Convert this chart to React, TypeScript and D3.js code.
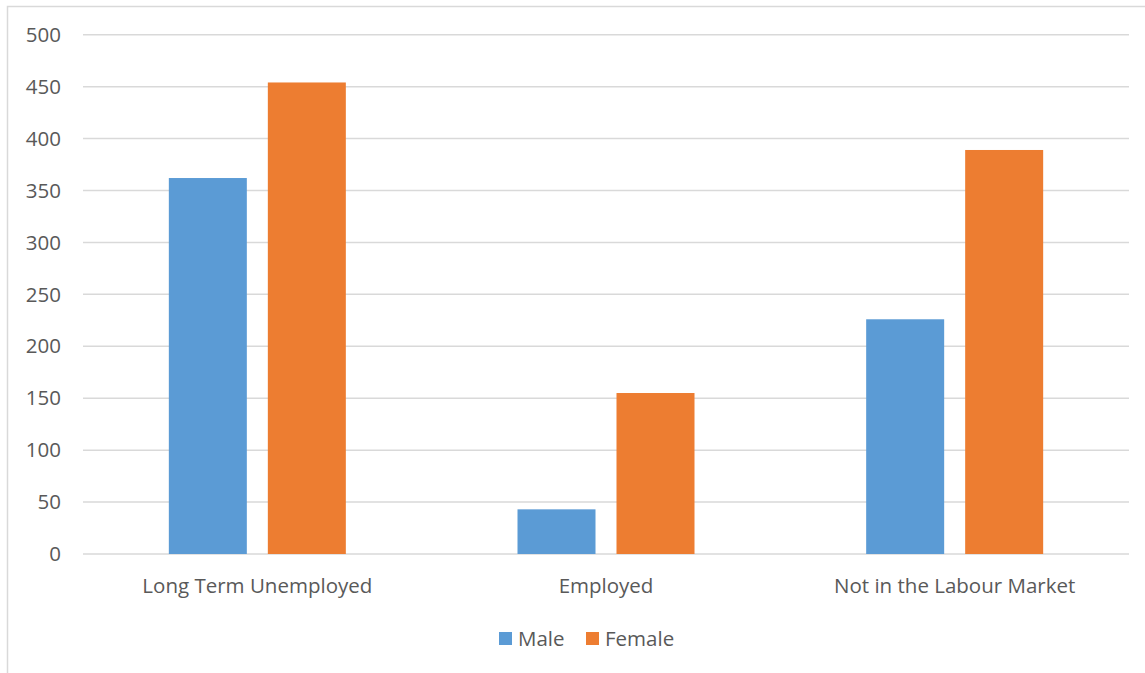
import React from "react";
import * as d3 from "d3";

const categories = ["Long Term Unemployed", "Employed", "Not in the Labour Market"];
const seriesNames = ["Male", "Female"];
const maleValues = [362, 43, 226];
const femaleValues = [454, 155, 389];
const yTicks = [0, 50, 100, 150, 200, 250, 300, 350, 400, 450, 500];
const colors = ["#5B9BD5", "#ED7D31"];

export default function App() {
  const W = 1145, H = 673;
  const left = 83, right = 1129, top = 34.7, bottom = 554;
  const y = d3.scaleLinear().domain([0, 500]).range([bottom, top]);
  const x0 = d3.scaleBand<string>().domain(categories).range([left, right]).paddingInner(0).paddingOuter(0);
  const bw = 78, gap = 21;
  const series = [maleValues, femaleValues];
  const font = "'Open Sans', 'Noto Sans', sans-serif";
  const fs = 20.5;
  return (
    <svg width={W} height={H} style={{ position: "absolute", left: 0, top: 0 }}>
      <rect x={0} y={0} width={W} height={H} fill="#fff" />
      <rect x={7.5} y={6.5} width={W + 10} height={H + 10} fill="none" stroke="#D9D9D9" strokeWidth={1.5} />
      {yTicks.map((t) => (
        <g key={t}>
          <line x1={left} x2={right} y1={y(t)} y2={y(t)} stroke="#D9D9D9" strokeWidth={1.5} />
          <text x={61} y={y(t)} dy="0.35em" textAnchor="end" fontFamily={font} fontSize={fs} fill="#595959">{t}</text>
        </g>
      ))}
      {categories.map((c, i) => {
        const cx = (x0(c) as number) + x0.bandwidth() / 2;
        const startX = cx - (2 * bw + gap) / 2;
        return (
          <g key={c}>
            {series.map((vals, s) => (
              <rect key={s} x={startX + s * (bw + gap)} y={y(vals[i])} width={bw} height={y(0) - y(vals[i])} fill={colors[s]} />
            ))}
            <text x={cx} y={586} dy="0.35em" textAnchor="middle" fontFamily={font} fontSize={fs} fill="#595959">{c}</text>
          </g>
        );
      })}
      {seriesNames.map((n, s) => {
        const lx = s === 0 ? 499 : 586;
        return (
          <g key={n}>
            <rect x={lx} y={632} width={13} height={13} fill={colors[s]} />
            <text x={lx + 19} y={639} dy="0.35em" fontFamily={font} fontSize={fs} fill="#595959">{n}</text>
          </g>
        );
      })}
    </svg>
  );
}
